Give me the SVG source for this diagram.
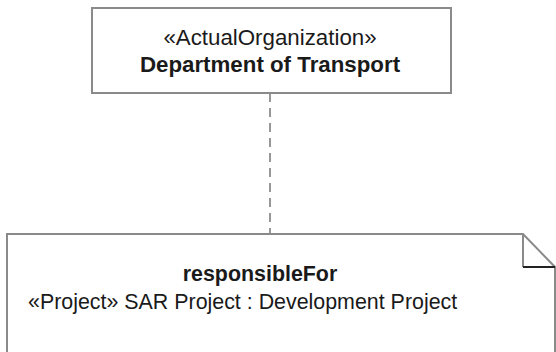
<svg xmlns="http://www.w3.org/2000/svg" width="556" height="352" viewBox="0 0 556 352">
<style>
.box{fill:#fff;stroke:#8a8a8a;stroke-width:2}
.t{font-family:"Liberation Sans",Arial,sans-serif;fill:#1a1a1a}
.b{font-weight:bold}
.dash{stroke:#777;stroke-width:1.5;stroke-dasharray:9 6;fill:none}
</style>
<rect width="556" height="352" fill="#fff"/>
<g id="connectors">
<line class="dash" x1="270" y1="93" x2="270" y2="234"/>
</g>
<g id="org">
<rect class="box" x="92" y="8" width="359" height="85"/>
<text class="t" x="270" y="45" font-size="22.3" text-anchor="middle">«ActualOrganization»</text>
<text class="t b" x="270" y="72" font-size="22.3" text-anchor="middle">Department of Transport</text>
</g>
<g id="note">
<path class="box" d="M7,360 L7,234 L523,234 L555,267 L555,360"/>
<path d="M523,234 L523,267" stroke="#8a8a8a" stroke-width="2" fill="none"/>
<path d="M523,267 L555,267" stroke="#222" stroke-width="2" fill="none"/>
<text class="t b" x="260" y="281" font-size="21.4" text-anchor="middle">responsibleFor</text>
<text class="t" x="28" y="309" font-size="21.4">«Project» SAR Project : Development Project</text>
</g>
</svg>
